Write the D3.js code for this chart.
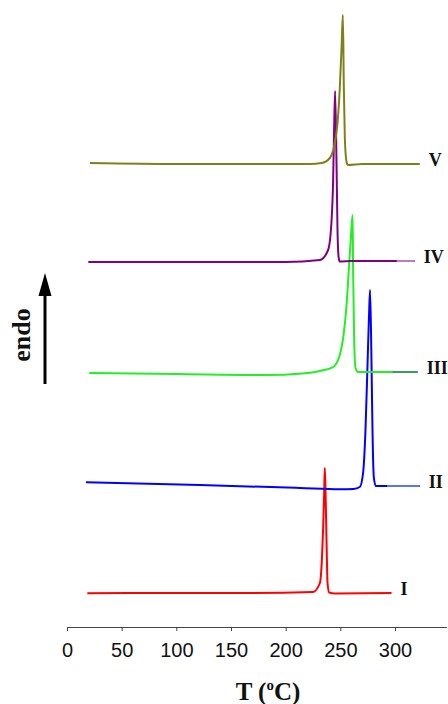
<!DOCTYPE html>
<html>
<head>
<meta charset="utf-8">
<script src="https://cdn.jsdelivr.net/npm/d3@7"></script>
<style>
	body { margin: 0; background: #fff; }
</style>
</head>
<body>
<div id="dsc"></div>
<script>
// loading data: [temperature (C), heat flow (a.u.)]
var curveI = [[18.6,3.37],[80,3.4],[160,3.4],[225,3.5],[231.3,4.4],[233.1,6.7],[234.3,10.0],[235.2,13.4],[235.8,15.9],
	[236.5,13.4],[237.4,8.4],[238.3,4.4],[239.8,3.45],[245,3.35],[296.8,3.4]];
var curveII = [[17.4,14.47],[121.6,14.2],[213,13.9],[249.5,13.77],[262,13.8],[267.8,14.0],[270.8,15.4],[273.0,19.7],
	[274.9,26.4],[276.3,31.4],[277.2,33.7],[278.5,26.4],[279.4,19.7],[280.6,15.0],[282.4,14.1],[292.7,14.1],[322.7,14.1]];
var curveIII = [[20.4,25.4],[100,25.3],[182.5,25.2],[215,25.35],[231.3,25.6],[243.4,26.0],[249.5,27.2],[252.6,28.9],
	[255.7,32.2],[258.0,36.2],[259.6,38.9],[261.2,41.2],[261.7,35.5],[262.6,28.9],[263.9,25.9],[266.3,25.5],[298,25.5],[320.8,25.5]];
var curveIV = [[19.5,36.5],[100,36.5],[200,36.5],[231.3,36.7],[238.8,37.7],[242.0,40.7],[243.4,44.7],[244.3,49.7],
	[245.2,53.6],[246.5,46.4],[247.4,39.7],[248.4,37.0],[249.5,36.55],[260,36.6],[301.6,36.6],[318.1,36.6]];
var curveV = [[21,46.4],[100,46.3],[200,46.3],[222,46.3],[233,46.4],[240.4,46.9],[246.5,49.5],[249.5,53.9],[251.1,57.9],
	[252.3,61.2],[253.2,53.9],[254.1,48.9],[255.7,46.5],[257,46.2],[270,46.3],[322.7,46.3]];

var sampleNames = ["I", "II", "III", "IV", "V"];
var sampleCurves = [curveI, curveII, curveIII, curveIV, curveV];
var lineColors = ["#ff0000", "#0000ff", "#22f022", "#800080", "#80801a"];
// the last bit of some traces is drawn in another shade
var tailStart = [null, 292.7, 298, 301.6, null];
var tailColors = [null, "#5a78e8", "#3c9c5c", "#c27ac2", null];
var xTicks = [0, 50, 100, 150, 200, 250, 300];

// setting the dimensions of the chart
var width = 448, height = 704;

var svg = d3.select("#dsc")
	.append("svg")
	.attr("width", width)
	.attr("height", height);

// scales
var x = d3.scaleLinear()
	.domain([0, 347])
	.range([67, 446.4]);

var y = d3.scaleLinear()
	.domain([0, 60])
	.range([627, 27]);

var line = d3.line()
	.x(function(d) { return x(d[0]); })
	.y(function(d) { return y(d[1]); })
	.curve(d3.curveMonotoneX);

// adding x axis
var xAxis = svg.append("g")
	.attr("transform", "translate(0," + y(0) + ")")
	.call(d3.axisBottom(x).tickValues(xTicks).tickSize(4).tickSizeOuter(0).tickPadding(12));

xAxis.selectAll("path, line")
	.attr("stroke", "#444");
xAxis.selectAll("text")
	.attr("fill", "#111")
	.attr("font-family", "'Liberation Sans', Arial, sans-serif")
	.attr("font-size", "20px");

// axis title
var xTitle = svg.append("text")
	.attr("x", 268)
	.attr("y", 700)
	.attr("text-anchor", "middle")
	.attr("font-family", "'Liberation Serif', 'Times New Roman', serif")
	.attr("font-weight", "bold")
	.attr("font-size", "25px")
	.attr("fill", "#111");
xTitle.append("tspan").text("T (");
xTitle.append("tspan").attr("font-size", "15px").attr("dy", -10).text("o");
xTitle.append("tspan").attr("dy", 10).text("C)");

// drawing the traces
sampleCurves.forEach(function(c, i) {
	svg.append("path")
		.datum(c)
		.attr("fill", "none")
		.attr("stroke", lineColors[i])
		.attr("stroke-width", 2)
		.attr("d", line);

	if (tailStart[i] !== null) {
		svg.append("path")
			.datum(c.filter(function(d) { return d[0] >= tailStart[i]; }))
			.attr("fill", "none")
			.attr("stroke", tailColors[i])
			.attr("stroke-width", 2)
			.attr("d", line);
	}

	var last = c[c.length - 1];
	svg.append("text")
		.attr("x", x(last[0]) + 9)
		.attr("y", y(last[1]) + 2)
		.attr("font-family", "'Liberation Serif', 'Times New Roman', serif")
		.attr("font-weight", "bold")
		.attr("font-size", "18px")
		.attr("fill", "#111")
		.text(sampleNames[i]);
});

// endo arrow
svg.append("line")
	.attr("x1", 45).attr("y1", 384)
	.attr("x2", 45).attr("y2", 292)
	.attr("stroke", "#000")
	.attr("stroke-width", 3);
svg.append("path")
	.attr("d", "M45,273L38.5,296L51.5,296Z")
	.attr("fill", "#000");

svg.append("text")
	.attr("transform", "translate(30,335) rotate(-90)")
	.attr("text-anchor", "middle")
	.attr("font-family", "'Liberation Serif', 'Times New Roman', serif")
	.attr("font-weight", "bold")
	.attr("font-size", "26px")
	.attr("fill", "#111")
	.text("endo");
</script>
</body>
</html>
